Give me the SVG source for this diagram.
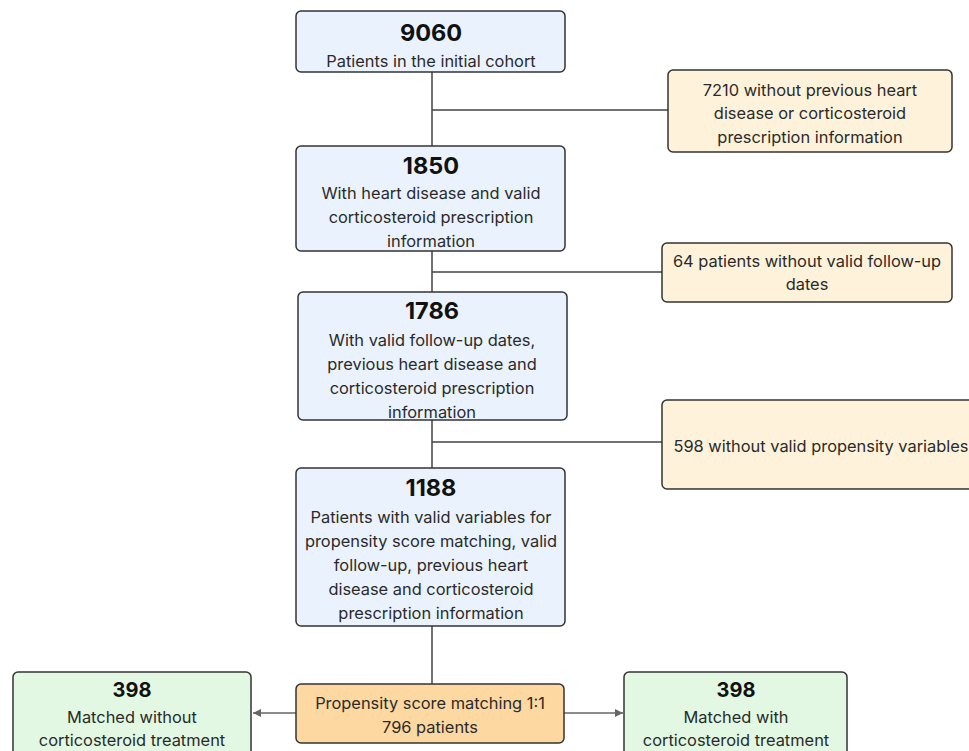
<svg xmlns="http://www.w3.org/2000/svg" width="969" height="751" viewBox="0 0 969 751">
<style>
.b{fill:#eaf3fd;stroke:#333;stroke-width:1.5}
.y{fill:#fef3da;stroke:#333;stroke-width:1.5}
.o{fill:#fdd8a1;stroke:#333;stroke-width:1.5}
.g{fill:#e2f8e3;stroke:#333;stroke-width:1.5}
text{font-family:Inter,"Liberation Sans",sans-serif;fill:#2a2a2a;text-anchor:middle;dominant-baseline:central}
.t{font-size:23.5px;font-weight:700;fill:#111}
.s{font-size:16.4px}
.c{stroke:#444;stroke-width:1.5;fill:none}
.a{stroke:#666;stroke-width:1.5;fill:none;marker-end:url(#ah)}
</style>
<defs>
<marker id="ah" viewBox="0 0 10 10" refX="10" refY="5" markerWidth="9" markerHeight="8" markerUnits="userSpaceOnUse" orient="auto">
<path d="M0,0 L10,5 L0,10 z" fill="#666"/>
</marker>
</defs>
<g id="connectors">
<path class="c" d="M432,72 V146 M432,110 H668"/>
<path class="c" d="M432,251 V292 M432,272 H662"/>
<path class="c" d="M432,420 V468 M432,442 H662"/>
<path class="c" d="M432,626 V684"/>
<path class="a" d="M296,713 H253"/>
<path class="a" d="M564,713 H623"/>
</g>
<g id="n9060">
<rect class="b" x="296" y="11" width="269" height="61" rx="5"/>
<text class="t" x="431" y="32">9060</text>
<text class="s" x="431" y="61">Patients in the initial cohort</text>
</g>
<g id="n7210">
<rect class="y" x="668" y="70" width="284" height="82" rx="5"/>
<text class="s" x="810" y="90">7210 without previous heart</text>
<text class="s" x="810" y="113">disease or corticosteroid</text>
<text class="s" x="810" y="137">prescription information</text>
</g>
<g id="n1850">
<rect class="b" x="296" y="146" width="269" height="105" rx="5"/>
<text class="t" x="431" y="165">1850</text>
<text class="s" x="431" y="193">With heart disease and valid</text>
<text class="s" x="431" y="217">corticosteroid prescription</text>
<text class="s" x="431" y="241">information</text>
</g>
<g id="n64">
<rect class="y" x="662" y="243" width="290" height="59" rx="5"/>
<text class="s" x="807" y="261">64 patients without valid follow-up</text>
<text class="s" x="807" y="284">dates</text>
</g>
<g id="n1786">
<rect class="b" x="298" y="292" width="269" height="128" rx="5"/>
<text class="t" x="432" y="310">1786</text>
<text class="s" x="432" y="340">With valid follow-up dates,</text>
<text class="s" x="432" y="364">previous heart disease and</text>
<text class="s" x="432" y="388">corticosteroid prescription</text>
<text class="s" x="432" y="412">information</text>
</g>
<g id="n598">
<rect class="y" x="662" y="400" width="320" height="89" rx="5"/>
<text class="s" x="821" y="446">598 without valid propensity variables</text>
</g>
<g id="n1188">
<rect class="b" x="296" y="468" width="269" height="158" rx="5"/>
<text class="t" x="431" y="487">1188</text>
<text class="s" x="431" y="517">Patients with valid variables for</text>
<text class="s" x="431" y="541">propensity score matching, valid</text>
<text class="s" x="431" y="565">follow-up, previous heart</text>
<text class="s" x="431" y="589">disease and corticosteroid</text>
<text class="s" x="431" y="613">prescription information</text>
</g>
<g id="nmatch">
<rect class="o" x="296" y="684" width="268" height="59" rx="5"/>
<text class="s" x="430" y="703">Propensity score matching 1:1</text>
<text class="s" x="430" y="727">796 patients</text>
</g>
<g id="nleft">
<rect class="g" x="13" y="672" width="238" height="100" rx="5"/>
<text class="t" x="132" y="690" style="font-size:20px">398</text>
<text class="s" x="132" y="717">Matched without</text>
<text class="s" x="132" y="740">corticosteroid treatment</text>
</g>
<g id="nright">
<rect class="g" x="624" y="672" width="223" height="100" rx="5"/>
<text class="t" x="736" y="690" style="font-size:20px">398</text>
<text class="s" x="736" y="717">Matched with</text>
<text class="s" x="736" y="740">corticosteroid treatment</text>
</g>
</svg>
